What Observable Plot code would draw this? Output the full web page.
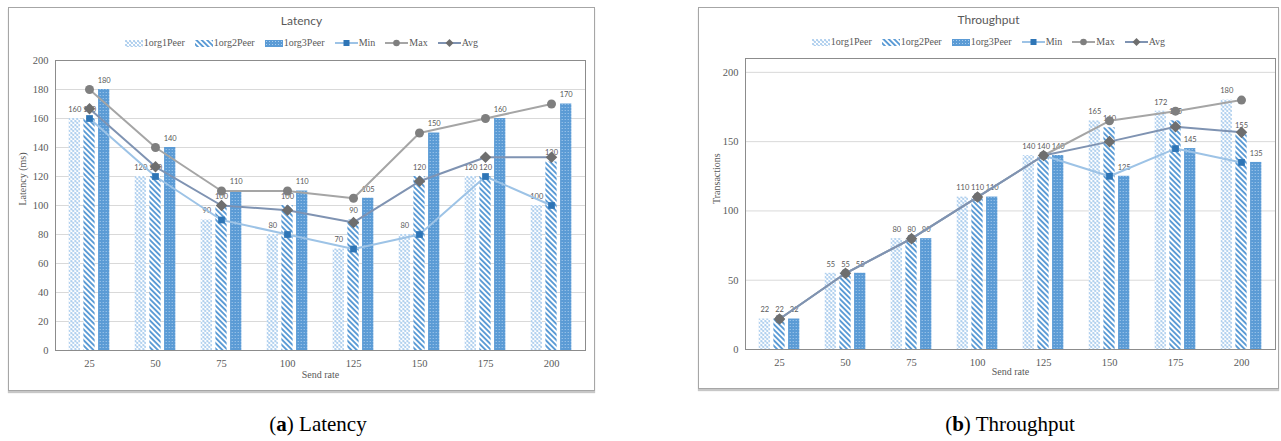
<!DOCTYPE html>
<html>
<head>
<meta charset="utf-8">
<script src="https://cdn.jsdelivr.net/npm/d3@7"></script>
<script src="https://cdn.jsdelivr.net/npm/@observablehq/plot@0.6"></script>
<style>
  html, body { margin: 0; padding: 0; background: #fff; }
  body { position: relative; width: 1281px; height: 441px; overflow: hidden; font-family: "Liberation Serif", serif; }
  .panel { position: absolute; box-sizing: border-box; border: 1px solid #a6a6a6; box-shadow: 0 2px 1px rgba(0,0,0,0.22); background: #fff; }
  .title { position: absolute; text-align: center; font: 12px Lato, "Open Sans", sans-serif; color: #595959; line-height: 14px; }
  .legend { position: absolute; display: flex; justify-content: center; align-items: center; gap: 10px; font-family: "Liberation Serif", serif; font-size: 10px; color: #595959; line-height: 12px; }
  .legend .item { display: flex; align-items: center; gap: 1px; }
  .chart { position: absolute; }
  .caption { position: absolute; font-family: "Liberation Serif", serif; font-size: 21px; color: #000; line-height: 24px; white-space: nowrap; transform: translateX(-50%); }
</style>
</head>
<body>
<script>
// Send rates on the x axis and the three peer configurations
const sendRates = [25, 50, 75, 100, 125, 150, 175, 200];
const seriesNames = ["1org1Peer", "1org2Peer", "1org3Peer"];

// Latency (ms)
const latency1org1Peer = [160, 120, 90, 80, 70, 80, 120, 100];
const latency1org2Peer = [160, 120, 100, 100, 90, 120, 120, 130];
const latency1org3Peer = [180, 140, 110, 110, 105, 150, 160, 170];
const latencyMin = [160, 120, 90, 80, 70, 80, 120, 100];
const latencyMax = [180, 140, 110, 110, 105, 150, 160, 170];
const latencyAvg = [166.7, 126.7, 100, 96.7, 88.3, 116.7, 133.3, 133.3];
const latencyTicks = [0, 20, 40, 60, 80, 100, 120, 140, 160, 180, 200];

// Throughput (transactions)
const throughput1org1Peer = [22, 55, 80, 110, 140, 165, 172, 180];
const throughput1org2Peer = [22, 55, 80, 110, 140, 160, 165, 155];
const throughput1org3Peer = [22, 55, 80, 110, 140, 125, 145, 135];
const throughputMin = [22, 55, 80, 110, 140, 125, 145, 135];
const throughputMax = [22, 55, 80, 110, 140, 165, 172, 180];
const throughputAvg = [22, 55, 80, 110, 140, 150, 160.7, 156.7];
const throughputTicks = [0, 50, 100, 150, 200];

const BLUE = "#5b9bd5";
const lineStyles = {
  Min: { stroke: "#9dc3e6", marker: "square", fill: "#2e75b6", r: 3.8 },
  Max: { stroke: "#a5a5a5", marker: "circle", fill: "#7f7f7f", r: 4.5 },
  Avg: { stroke: "#7f93b2", marker: "diamond2", fill: "#6e6e6e", r: 5.2 }
};

// Fill patterns for the three bar series
function patternDefs(prefix) {
  return `
    <pattern id="${prefix}-p0" width="4" height="4" patternUnits="userSpaceOnUse">
      <rect width="4" height="4" fill="#fff"/>
      <rect x="0" y="0" width="2" height="2" fill="#b7d4f0"/>
      <rect x="2" y="2" width="2" height="2" fill="#b7d4f0"/>
      <rect x="1.5" y="1.5" width="1" height="1" fill="#8fbde6"/>
    </pattern>
    <pattern id="${prefix}-p1" width="3.8" height="3.8" patternUnits="userSpaceOnUse" patternTransform="rotate(-45)">
      <rect width="3.8" height="3.8" fill="#fff"/><rect width="1.9" height="3.8" fill="${BLUE}"/>
    </pattern>
    <pattern id="${prefix}-p2" width="3" height="3" patternUnits="userSpaceOnUse">
      <rect width="3" height="3" fill="${BLUE}"/>
      <rect x="1" y="1" width="1" height="1" fill="#a9cdee"/>
    </pattern>`;
}

function rows(values) {
  return sendRates.map((rate, i) => ({ rate, value: values[i] }));
}

function drawChart(cfg) {
  const { prefix, bars, lines, ticks, yMax, width, height, margins, yLabel, yLabelDx, xLabelDy } = cfg;
  const [mt, mr, mb, ml] = margins;
  const step = (width - ml - mr) / sendRates.length;
  const barWidth = 11.5;
  const gap = 14.7;
  const inset = (step - barWidth) / 2;
  const offsets = [-gap, 0, gap];

  const marks = [Plot.ruleY(ticks.filter(t => t > 0), { stroke: "#d9d9d9", strokeWidth: 1 })];
  bars.forEach((vals, k) => {
    marks.push(Plot.barY(rows(vals), {
      x: "rate", y: "value", dx: offsets[k],
      insetLeft: inset, insetRight: inset,
      fill: `url(#${prefix}-p${k})`
    }));
  });
  bars.forEach((vals, k) => {
    marks.push(Plot.text(rows(vals), {
      x: "rate", y: "value", text: d => String(d.value), dx: offsets[k], dy: -9,
      fontSize: 7.5, fontFamily: "Lato, 'Open Sans', sans-serif", fill: "#595959"
    }));
  });
  for (const name of ["Min", "Max", "Avg"]) {
    const s = lineStyles[name];
    const data = rows(lines[name]);
    marks.push(Plot.lineY(data, { x: "rate", y: "value", stroke: s.stroke, strokeWidth: 2 }));
    marks.push(Plot.dot(data, { x: "rate", y: "value", symbol: s.marker, r: s.r, fill: s.fill, stroke: "none" }));
  }
  marks.push(Plot.frame({ stroke: "#8c8c8c" }));
  marks.push(Plot.text([yLabel], {
    frameAnchor: "left", dx: yLabelDx, rotate: -90, text: d => d,
    fontSize: 10, fontFamily: "'Liberation Serif', serif", fill: "#595959"
  }));
  marks.push(Plot.text(["Send rate"], {
    frameAnchor: "bottom", dy: xLabelDy, text: d => d,
    fontSize: 10, fontFamily: "'Liberation Serif', serif", fill: "#595959"
  }));

  const svg = Plot.plot({
    width, height,
    marginTop: mt, marginRight: mr, marginBottom: mb, marginLeft: ml,
    style: { fontFamily: "'Liberation Serif', serif", fontSize: "10.5px", color: "#595959", background: "transparent" },
    x: { type: "band", domain: sendRates, padding: 0, tickSize: 0, tickPadding: 9, label: null },
    y: { domain: [0, yMax], ticks, tickSize: 0, tickPadding: 7, label: null },
    marks
  });
  d3.select(svg).insert("defs", ":first-child").html(patternDefs(prefix));
  return svg;
}

function legend(prefix) {
  const el = document.createElement("div");
  el.className = "legend";
  let html = "";
  seriesNames.forEach((n, k) => {
    html += `<span class="item"><svg width="18" height="7"><rect width="18" height="7" fill="url(#${prefix}-p${k})"/></svg>${n}</span>`;
  });
  for (const name of ["Min", "Max", "Avg"]) {
    const s = lineStyles[name];
    let m;
    if (s.marker === "square") m = `<rect x="8.5" y="2" width="6" height="6" fill="${s.fill}"/>`;
    else if (s.marker === "circle") m = `<circle cx="11.5" cy="5" r="3.3" fill="${s.fill}"/>`;
    else m = `<path d="M11.5,1 L15.5,5 L11.5,9 L7.5,5Z" fill="${s.fill}"/>`;
    html += `<span class="item"><svg width="23" height="10"><line x1="0" x2="23" y1="5" y2="5" stroke="${s.stroke}" stroke-width="2"/>${m}</svg>${name}</span>`;
  }
  el.innerHTML = html;
  return el;
}

function place(el, left, top, width, height) {
  el.style.left = left + "px";
  el.style.top = top + "px";
  if (width != null) el.style.width = width + "px";
  if (height != null) el.style.height = height + "px";
  document.body.appendChild(el);
  return el;
}

function panel(cfg) {
  const box = document.createElement("div");
  box.className = "panel";
  place(box, cfg.box[0], cfg.box[1], cfg.box[2], cfg.box[3]);

  const t = document.createElement("div");
  t.className = "title";
  t.textContent = cfg.title;
  place(t, cfg.box[0], cfg.titleTop, cfg.box[2]);

  const lg = legend(cfg.prefix);
  place(lg, cfg.box[0], cfg.legendTop, cfg.box[2]);

  const wrap = document.createElement("div");
  wrap.className = "chart";
  wrap.appendChild(drawChart(cfg));
  place(wrap, cfg.chartPos[0], cfg.chartPos[1]);

  const cap = document.createElement("div");
  cap.className = "caption";
  cap.innerHTML = cfg.caption;
  place(cap, cfg.captionPos[0], cfg.captionPos[1]);
}

panel({
  prefix: "lat", title: "Latency",
  box: [8, 7, 587, 384], titleTop: 14, legendTop: 37,
  chartPos: [9, 52], width: 584, height: 337, margins: [8, 8, 39, 46],
  bars: [latency1org1Peer, latency1org2Peer, latency1org3Peer],
  lines: { Min: latencyMin, Max: latencyMax, Avg: latencyAvg },
  ticks: latencyTicks, yMax: 200,
  yLabel: "Latency (ms)", yLabelDx: -33, xLabelDy: 27,
  caption: "(<b>a</b>) Latency", captionPos: [318, 412]
});

panel({
  prefix: "thr", title: "Throughput",
  box: [698, 7, 581, 382], titleTop: 13, legendTop: 36,
  chartPos: [699, 52], width: 578, height: 334, margins: [6, 2, 37, 46],
  bars: [throughput1org1Peer, throughput1org2Peer, throughput1org3Peer],
  lines: { Min: throughputMin, Max: throughputMax, Avg: throughputAvg },
  ticks: throughputTicks, yMax: 210,
  yLabel: "Transactions", yLabelDx: -29, xLabelDy: 25,
  caption: "(<b>b</b>) Throughput", captionPos: [1010, 412]
});
</script>
</body>
</html>
